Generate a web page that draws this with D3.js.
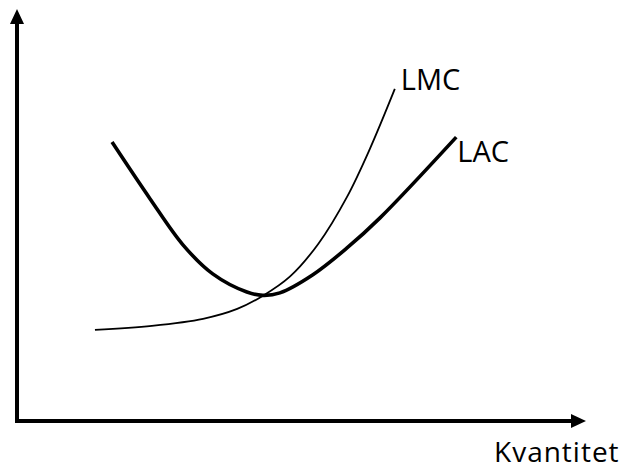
<!DOCTYPE html>
<html>
<head>
<meta charset="utf-8">
<script src="https://cdn.jsdelivr.net/npm/d3@7"></script>
<style>
  html, body { margin: 0; padding: 0; background: #ffffff; }
  svg { display: block; }
  text { font-family: "Open Sans", "Noto Sans", "Liberation Sans", sans-serif; fill: #000; }
</style>
</head>
<body>
<svg id="chart" width="624" height="470"></svg>
<script>
// Long-run average cost (LAC) — quantity vs. cost (arbitrary units 0..100)
const lacQuantity = [16.7, 23.4, 29.2, 34.4, 40.4, 43.2, 46.2, 52.0, 58.0, 63.8, 77.2];
const lacCost     = [67.7, 53.9, 42.7, 35.7, 31.3, 30.5, 31.1, 35.5, 42.0, 49.3, 68.9];

// Long-run marginal cost (LMC)
const lmcQuantity = [13.7, 23.7, 32.7, 38.7, 43.1, 48.0, 53.0, 58.0, 62.0, 66.4];
const lmcCost     = [22.1, 23.1, 24.8, 27.2, 30.3, 35.1, 43.1, 54.4, 66.0, 80.6];

const seriesLabels = ["LAC", "LMC"];
const xAxisLabel = "Kvantitet";

const svg = d3.select("#chart");
const x = d3.scaleLinear().domain([0, 100]).range([17, 586]);
const y = d3.scaleLinear().domain([0, 100]).range([421, 9]);

// Axes with arrowheads
const ax = svg.append("g");
ax.append("line")
  .attr("x1", x(0)).attr("y1", y(0) + 2)
  .attr("x2", x(0)).attr("y2", y(100) + 12)
  .attr("stroke", "#000").attr("stroke-width", 4);
ax.append("path")
  .attr("d", `M${x(0)},${y(100)} L${x(0) - 7},${y(100) + 15} L${x(0) + 7},${y(100) + 15} Z`)
  .attr("fill", "#000");
ax.append("line")
  .attr("x1", x(0) - 2).attr("y1", y(0))
  .attr("x2", x(100) - 12).attr("y2", y(0))
  .attr("stroke", "#000").attr("stroke-width", 4);
ax.append("path")
  .attr("d", `M${x(100)},${y(0)} L${x(100) - 15},${y(0) - 7} L${x(100) - 15},${y(0) + 7} Z`)
  .attr("fill", "#000");

const line = d3.line()
  .x(d => x(d[0]))
  .y(d => y(d[1]))
  .curve(d3.curveCatmullRom.alpha(0.5));

const lacData = lacQuantity.map((q, i) => [q, lacCost[i]]);
const lmcData = lmcQuantity.map((q, i) => [q, lmcCost[i]]);

svg.append("path")
  .datum(lmcData)
  .attr("d", line)
  .attr("fill", "none")
  .attr("stroke", "#000")
  .attr("stroke-width", 1.8);

svg.append("path")
  .datum(lacData)
  .attr("d", line)
  .attr("fill", "none")
  .attr("stroke", "#000")
  .attr("stroke-width", 3.6)
  .attr("stroke-linecap", "butt");

// Labels at curve ends
const lacEnd = lacData[lacData.length - 1];
const lmcEnd = lmcData[lmcData.length - 1];

svg.append("text")
  .attr("x", x(lmcEnd[0]) + 6)
  .attr("y", y(lmcEnd[1]) + 1)
  .attr("font-size", 29)
  .text(seriesLabels[1]);

svg.append("text")
  .attr("x", x(lacEnd[0]) + 1)
  .attr("y", y(lacEnd[1]) + 25)
  .attr("font-size", 29)
  .text(seriesLabels[0]);

svg.append("text")
  .attr("x", 494)
  .attr("y", 462)
  .attr("font-size", 28)
  .attr("letter-spacing", 1)
  .text(xAxisLabel);
</script>
</body>
</html>
